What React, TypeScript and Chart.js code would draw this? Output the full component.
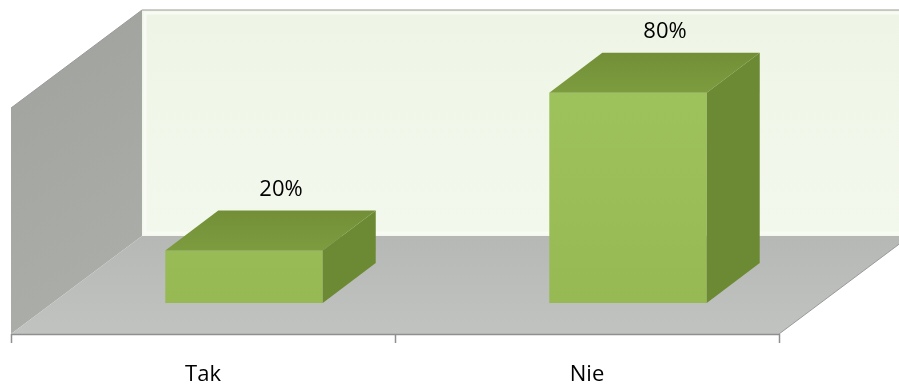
import React, { useEffect, useRef } from "react";
import { Chart, registerables } from "chart.js";

Chart.register(...registerables);

const categories: string[] = ["Tak", "Nie"];
const values: number[] = [20, 80];
const valueLabels: string[] = ["20%", "80%"];
const yMax = 86;

// oblique projection offsets, relative to the bar front plane
const FRONT = { dx: -41, dy: 31 };
const BACK = { dx: 90, dy: -67 };
const BAR_DEPTH = { dx: 53, dy: -40 };
const FONT = '22px "Open Sans", "Liberation Sans", sans-serif';

const threeD = {
  id: "threeD",
  beforeDatasetsDraw(chart: any) {
    const ctx = chart.ctx as CanvasRenderingContext2D;
    const a = chart.chartArea;
    const L = a.left, R = a.right, T = a.top, B = a.bottom;
    const xs = chart.scales.x;
    ctx.save();
    // back wall
    const bw = ctx.createLinearGradient(0, T + BACK.dy, 0, B + BACK.dy);
    bw.addColorStop(0, "#eef5e6");
    bw.addColorStop(1, "#f3f8ec");
    ctx.fillStyle = bw;
    ctx.fillRect(L + BACK.dx, T + BACK.dy, R - L, B - T);
    ctx.strokeStyle = "#f8fbf4";
    ctx.lineWidth = 3;
    ctx.strokeRect(L + BACK.dx + 3, T + BACK.dy + 3, R - L - 6, B - T - 6);
    // left wall
    const lw = ctx.createLinearGradient(L + FRONT.dx, T, L + BACK.dx, B);
    lw.addColorStop(0, "#a2a49f");
    lw.addColorStop(1, "#acaea9");
    ctx.fillStyle = lw;
    ctx.beginPath();
    ctx.moveTo(L + FRONT.dx, T + FRONT.dy);
    ctx.lineTo(L + BACK.dx, T + BACK.dy);
    ctx.lineTo(L + BACK.dx, B + BACK.dy);
    ctx.lineTo(L + FRONT.dx, B + FRONT.dy);
    ctx.closePath();
    ctx.fill();
    // floor
    const fl = ctx.createLinearGradient(0, B + BACK.dy, 0, B + FRONT.dy);
    fl.addColorStop(0, "#b6b8b5");
    fl.addColorStop(1, "#c1c3c0");
    ctx.fillStyle = fl;
    ctx.beginPath();
    ctx.moveTo(L + FRONT.dx, B + FRONT.dy);
    ctx.lineTo(L + BACK.dx, B + BACK.dy);
    ctx.lineTo(R + BACK.dx, B + BACK.dy);
    ctx.lineTo(R + FRONT.dx, B + FRONT.dy);
    ctx.closePath();
    ctx.fill();
    // edges
    ctx.strokeStyle = "#9a9a9a";
    ctx.lineWidth = 1;
    ctx.beginPath();
    ctx.moveTo(L + FRONT.dx, T + FRONT.dy);
    ctx.lineTo(L + BACK.dx, T + BACK.dy);
    ctx.lineTo(R + BACK.dx, T + BACK.dy);
    ctx.moveTo(R + FRONT.dx, B + FRONT.dy);
    ctx.lineTo(R + BACK.dx, B + BACK.dy);
    ctx.stroke();
    // category axis line and ticks
    ctx.strokeStyle = "#8f8f8f";
    ctx.lineWidth = 1.5;
    ctx.beginPath();
    ctx.moveTo(L + FRONT.dx, B + FRONT.dy + 0.5);
    ctx.lineTo(R + FRONT.dx, B + FRONT.dy + 0.5);
    for (let i = 0; i <= categories.length; i++) {
      const x = Math.round(xs.getPixelForValue(i - 0.5) + FRONT.dx) + 0.5;
      ctx.moveTo(x, B + FRONT.dy);
      ctx.lineTo(x, B + FRONT.dy + 9);
    }
    ctx.stroke();
    // category labels
    ctx.fillStyle = "#000";
    ctx.font = FONT;
    ctx.textAlign = "center";
    ctx.textBaseline = "middle";
    categories.forEach((c, i) => {
      ctx.fillText(c, xs.getPixelForValue(i) + FRONT.dx, B + FRONT.dy + 41);
    });
    ctx.restore();
  },
  afterDatasetsDraw(chart: any) {
    const ctx = chart.ctx as CanvasRenderingContext2D;
    const meta = chart.getDatasetMeta(0);
    ctx.save();
    meta.data.forEach((bar: any, i: number) => {
      const l = bar.x - bar.width / 2;
      const r = bar.x + bar.width / 2;
      const top = bar.y;
      const base = bar.base;
      // top face
      const tg = ctx.createLinearGradient(0, top + BAR_DEPTH.dy, 0, top);
      tg.addColorStop(0, "#728f37");
      tg.addColorStop(1, "#7d9c3f");
      ctx.fillStyle = tg;
      ctx.beginPath();
      ctx.moveTo(l, top);
      ctx.lineTo(r, top);
      ctx.lineTo(r + BAR_DEPTH.dx, top + BAR_DEPTH.dy);
      ctx.lineTo(l + BAR_DEPTH.dx, top + BAR_DEPTH.dy);
      ctx.closePath();
      ctx.fill();
      // side face
      ctx.fillStyle = "#6b8a33";
      ctx.beginPath();
      ctx.moveTo(r, top);
      ctx.lineTo(r + BAR_DEPTH.dx, top + BAR_DEPTH.dy);
      ctx.lineTo(r + BAR_DEPTH.dx, base + BAR_DEPTH.dy);
      ctx.lineTo(r, base);
      ctx.closePath();
      ctx.fill();
      // value label
      ctx.fillStyle = "#000";
      ctx.font = FONT;
      ctx.textAlign = "center";
      ctx.textBaseline = "middle";
      ctx.fillText(valueLabels[i], bar.x + 37, top - 61);
    });
    ctx.restore();
  },
};

export default function App() {
  const ref = useRef<HTMLCanvasElement | null>(null);
  useEffect(() => {
    if (!ref.current) return;
    const chart = new Chart(ref.current, {
      type: "bar",
      data: {
        labels: categories,
        datasets: [
          {
            data: values,
            backgroundColor: (c: any) => {
              const ch = c.chart;
              const a = ch.chartArea;
              if (!a) return "#9bbd59";
              const g = ch.ctx.createLinearGradient(0, a.top, 0, a.bottom);
              g.addColorStop(0, "#9fc35c");
              g.addColorStop(1, "#97b954");
              return g;
            },
            borderWidth: 0,
            barPercentage: 0.41,
            categoryPercentage: 1,
          },
        ],
      },
      options: {
        animation: false,
        responsive: false,
        maintainAspectRatio: false,
        layout: { padding: { left: 52, right: 79, top: 77, bottom: 82 } },
        scales: {
          x: { display: false, offset: true },
          y: { display: false, min: 0, max: yMax },
        },
        plugins: {
          legend: { display: false },
          tooltip: { enabled: false },
        },
      },
      plugins: [threeD],
    });
    return () => chart.destroy();
  }, []);
  return (
    <div style={{ position: "fixed", left: 0, top: 0, width: 899, height: 385, background: "#fff" }}>
      <canvas ref={ref} width={899} height={385} style={{ width: 899, height: 385, display: "block" }} />
    </div>
  );
}
